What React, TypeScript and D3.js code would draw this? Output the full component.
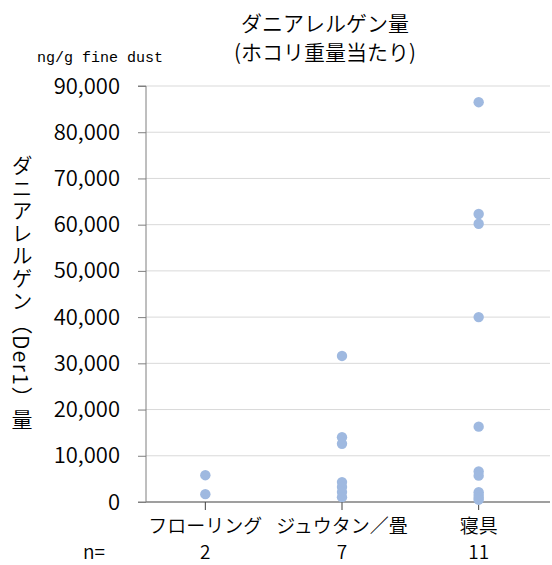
import { useEffect, useRef } from 'react'
import * as d3 from 'd3'

const categories = ['フローリング', 'ジュウタン／畳', '寝具']
const counts = [2, 7, 11]
const flooring = [5800, 1700]
const carpet = [31600, 14000, 12600, 4300, 3250, 2150, 1050]
const bedding = [86500, 62300, 60200, 40000, 16300, 6600, 5700, 2100, 1500, 900, 500]
const yTicks = [0, 10000, 20000, 30000, 40000, 50000, 60000, 70000, 80000, 90000]

const seriesByCat = [flooring, carpet, bedding]

export default function App() {
  const rootRef = useRef<SVGSVGElement>(null)

  useEffect(() => {
    const width = 552
    const height = 565
    const left = 146
    const right = 550
    const top = 86
    const bottom = 502
    const font = '"Noto Sans CJK JP", sans-serif'
    const weight = 350

    const svg = d3.select(rootRef.current).attr('width', width).attr('height', height)
    svg.selectAll('*').remove()

    const x = d3.scaleBand<string>().domain(categories).range([137, 547])
    const y = d3.scaleLinear().domain([0, 90000]).range([bottom, top])
    const cx = (c: string) => x(c)! + x.bandwidth() / 2

    // gridlines
    svg
      .append('g')
      .selectAll('line')
      .data(yTicks.filter((d) => d > 0))
      .join('line')
      .attr('x1', left)
      .attr('x2', right)
      .attr('y1', (d) => y(d))
      .attr('y2', (d) => y(d))
      .attr('stroke', '#d9d9d9')
      .attr('stroke-width', 1)

    // y axis
    const yAxis = svg
      .append('g')
      .attr('transform', `translate(${left},0)`)
      .call(
        d3
          .axisLeft(y)
          .tickValues(yTicks)
          .tickSize(8)
          .tickPadding(18)
          .tickFormat((d) => d3.format(',')(d as number))
      )
    yAxis.select('.domain').attr('stroke', '#7f7f7f').attr('d', `M-8,${top}H0V${bottom}H-8`)
    yAxis.selectAll('.tick line').attr('stroke', '#7f7f7f')
    yAxis
      .selectAll('.tick text')
      .attr('font-family', font)
      .attr('font-weight', weight)
      .attr('font-size', 22)
      .attr('fill', '#000')

    // x axis
    svg
      .append('line')
      .attr('x1', left)
      .attr('x2', right)
      .attr('y1', bottom)
      .attr('y2', bottom)
      .attr('stroke', '#7f7f7f')
      .attr('stroke-width', 1.3)
    svg
      .append('g')
      .selectAll('line')
      .data(categories)
      .join('line')
      .attr('x1', cx)
      .attr('x2', cx)
      .attr('y1', bottom)
      .attr('y2', bottom + 8)
      .attr('stroke', '#404040')

    svg
      .append('g')
      .selectAll('text')
      .data(categories)
      .join('text')
      .attr('x', cx)
      .attr('y', 533)
      .attr('text-anchor', 'middle')
      .attr('font-family', font)
      .attr('font-weight', weight)
      .attr('font-size', 19)
      .text((d) => d)

    svg
      .append('g')
      .selectAll('text')
      .data(categories)
      .join('text')
      .attr('x', cx)
      .attr('y', 559)
      .attr('text-anchor', 'middle')
      .attr('font-family', font)
      .attr('font-weight', weight)
      .attr('font-size', 19)
      .text((_d, i) => String(counts[i]))

    svg
      .append('text')
      .attr('x', 94)
      .attr('y', 559)
      .attr('text-anchor', 'middle')
      .attr('font-family', font)
      .attr('font-weight', weight)
      .attr('font-size', 19)
      .text('n=')

    // points
    const pts = seriesByCat.flatMap((vals, i) => vals.map((v) => ({ c: categories[i], v })))
    svg
      .append('g')
      .selectAll('circle')
      .data(pts)
      .join('circle')
      .attr('cx', (d) => cx(d.c))
      .attr('cy', (d) => y(d.v))
      .attr('r', 5.2)
      .attr('fill', '#9fb9e0')

    // titles
    svg
      .append('text')
      .attr('x', 325)
      .attr('y', 31)
      .attr('text-anchor', 'middle')
      .attr('font-family', font)
      .attr('font-weight', weight)
      .attr('font-size', 21)
      .text('ダニアレルゲン量')
    svg
      .append('text')
      .attr('x', 325)
      .attr('y', 60)
      .attr('text-anchor', 'middle')
      .attr('font-family', font)
      .attr('font-weight', weight)
      .attr('font-size', 21)
      .text('(ホコリ重量当たり)')
    svg
      .append('text')
      .attr('x', 100)
      .attr('y', 62)
      .attr('text-anchor', 'middle')
      .attr('font-family', '"Liberation Mono", monospace')
      .attr('font-size', 15)
      .text('ng/g fine dust')

    svg
      .append('text')
      .attr('x', 22)
      .attr('y', 155)
      .attr('font-family', font)
      .attr('font-weight', weight)
      .attr('font-size', 21)
      .attr('letter-spacing', 1.5)
      .style('writing-mode', 'vertical-rl')
      .text('ダニアレルゲン（Der1）量')
  }, [])

  return <svg ref={rootRef} style={{ display: 'block', position: 'absolute', left: 0, top: 0 }} />
}
